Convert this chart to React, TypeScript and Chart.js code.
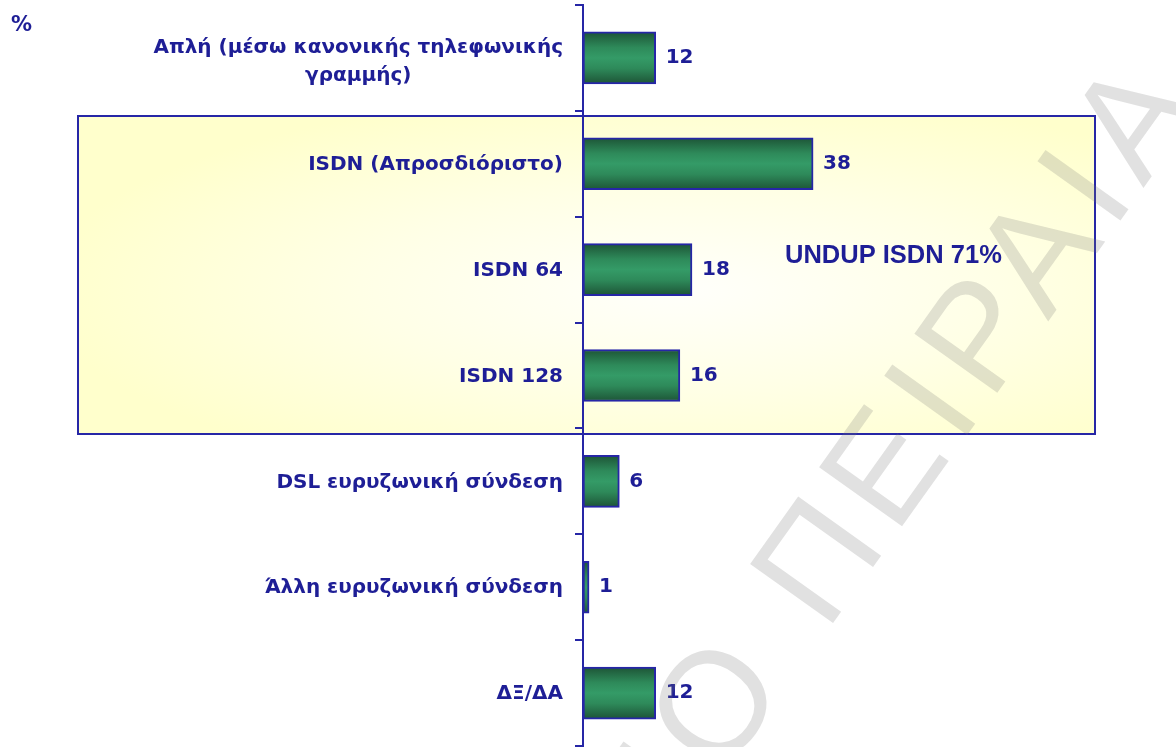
import React, { useEffect, useRef } from 'react';
import { Chart, registerables } from 'chart.js';

Chart.register(...registerables);

const categories: (string | string[])[] = [
  ['Απλή (μέσω κανονικής τηλεφωνικής', 'γραμμής)'],
  'ISDN (Απροσδιόριστο)',
  'ISDN 64',
  'ISDN 128',
  'DSL ευρυζωνική σύνδεση',
  'Άλλη ευρυζωνική σύνδεση',
  'ΔΞ/ΔΑ',
];
const values: number[] = [12, 38, 18, 16, 6, 1, 12];
const unitLabel = '%';
const noteText = 'UNDUP ISDN 71%';
const boxedFrom = 1;
const boxedTo = 3;
const watermarkPrefix = 'ΠΑΝΕΠΙΣΤΗΜΙΟ ';
const watermarkText = 'ΠΑΝΕΠΙΣΤΗΜΙΟ ΠΕΙΡΑΙΑ';

const NAVY = '#1e1e96';
const AXIS = '#2626a6';
const FONT = '"DejaVu Sans", Verdana, sans-serif';

export default function App() {
  const ref = useRef<HTMLCanvasElement>(null);

  useEffect(() => {
    const canvas = ref.current as HTMLCanvasElement;

    const boxPlugin = {
      id: 'boxPlugin',
      beforeDraw(chart: any) {
        const ctx = chart.ctx as CanvasRenderingContext2D;
        const y = chart.scales.y;
        const half = (y.getPixelForValue(1) - y.getPixelForValue(0)) / 2;
        const top = Math.round(y.getPixelForValue(boxedFrom) - half + 4);
        const bottom = Math.round(y.getPixelForValue(boxedTo) + half + 7);
        const left = 77;
        const right = 1096;
        ctx.save();
        ctx.fillStyle = '#ffffff';
        ctx.fillRect(0, 0, chart.width, chart.height);
        const cx = 680;
        const cy = (top + bottom) / 2 + 15;
        const rx = 640;
        const ry = 200;
        ctx.save();
        ctx.beginPath();
        ctx.rect(left, top, right - left, bottom - top);
        ctx.clip();
        ctx.translate(cx, cy);
        ctx.scale(rx / ry, 1);
        const g = ctx.createRadialGradient(0, 0, 0, 0, 0, ry);
        g.addColorStop(0, '#fffffb');
        g.addColorStop(0.5, '#ffffe6');
        g.addColorStop(1, '#ffffcc');
        ctx.fillStyle = g;
        ctx.fillRect(-rx * 2, -ry * 3, rx * 4, ry * 6);
        ctx.restore();
        ctx.strokeStyle = AXIS;
        ctx.lineWidth = 2;
        ctx.strokeRect(left + 1, top + 1, right - left - 2, bottom - top - 2);
        ctx.restore();
      },
      afterDatasetsDraw(chart: any) {
        const ctx = chart.ctx as CanvasRenderingContext2D;
        const y = chart.scales.y;
        const x = chart.scales.x;
        const axisX = x.getPixelForValue(0);
        ctx.save();
        ctx.fillStyle = NAVY;
        ctx.font = `bold 20px ${FONT}`;
        ctx.textBaseline = 'middle';
        categories.forEach((lab, i) => {
          const yc = y.getPixelForValue(i);
          const rightX = axisX - 20;
          if (Array.isArray(lab)) {
            const w0 = ctx.measureText(lab[0]).width;
            const center = rightX - w0 / 2;
            ctx.textAlign = 'center';
            const lh = 28;
            const start = yc - ((lab.length - 1) * lh) / 2 + 4;
            lab.forEach((line, k) => ctx.fillText(line, center, start + k * lh));
          } else {
            ctx.textAlign = 'right';
            ctx.fillText(lab, rightX, yc + 1);
          }
        });
        ctx.textAlign = 'left';
        values.forEach((v, i) => {
          const yc = y.getPixelForValue(i);
          ctx.fillText(String(v), x.getPixelForValue(v) + 10, yc);
        });
        ctx.font = `bold 21px ${FONT}`;
        ctx.fillText(unitLabel, 11, 26);
        ctx.font = 'bold 25.5px "Liberation Sans", Arial, sans-serif';
        ctx.fillText(noteText, 785, 256);
        ctx.restore();
      },
      afterDraw(chart: any) {
        const ctx = chart.ctx as CanvasRenderingContext2D;
        ctx.save();
        ctx.font = '148px "Liberation Sans", Arial, sans-serif';
        (ctx as any).letterSpacing = '12px';
        ctx.fillStyle = 'rgba(120,120,120,0.22)';
        ctx.textBaseline = 'alphabetic';
        ctx.textAlign = 'left';
        ctx.translate(826, 633);
        ctx.rotate((-54.5 * Math.PI) / 180);
        const pw = ctx.measureText(watermarkPrefix).width;
        ctx.fillText(watermarkText, -pw, 0);
        ctx.restore();
      },
    };

    const chart = new Chart(canvas, {
      type: 'bar',
      data: {
        labels: categories.map((c) => (Array.isArray(c) ? c.join(' ') : c)),
        datasets: [
          {
            data: values,
            backgroundColor: (c: any) => {
              const ch = c.chart;
              const ys = ch.scales && ch.scales.y;
              if (!ys || c.dataIndex == null) return '#2e8b57';
              const yc = ys.getPixelForValue(c.dataIndex);
              if (!Number.isFinite(yc)) return '#2e8b57';
              const g = ch.ctx.createLinearGradient(0, yc - 26, 0, yc + 26);
              g.addColorStop(0, '#1d5436');
              g.addColorStop(0.3, '#2e8a5a');
              g.addColorStop(0.5, '#349b67');
              g.addColorStop(0.7, '#2e8a5a');
              g.addColorStop(1, '#1d5436');
              return g;
            },
            borderColor: AXIS,
            borderWidth: 2,
            borderSkipped: false,
            barThickness: 52,
          },
        ],
      },
      options: {
        indexAxis: 'y',
        responsive: false,
        animation: false,
        layout: { padding: { left: 575, right: 48, top: 5, bottom: 1 } },
        plugins: { legend: { display: false }, tooltip: { enabled: false } },
        scales: {
          x: { display: false, min: 0, max: 90 },
          y: {
            type: 'category',
            offset: true,
            grid: {
              display: true,
              drawOnChartArea: false,
              drawTicks: true,
              tickLength: 8,
              color: AXIS,
              lineWidth: 2,
              offset: true,
            },
            border: { display: true, color: AXIS, width: 2 },
            ticks: { display: false },
          },
        },
      },
      plugins: [boxPlugin],
    });

    return () => chart.destroy();
  }, []);

  return (
    <div style={{ position: 'absolute', left: 0, top: 0, width: 1176, height: 747, background: '#fff' }}>
      <canvas ref={ref} width={1176} height={747} style={{ display: 'block' }} />
    </div>
  );
}
